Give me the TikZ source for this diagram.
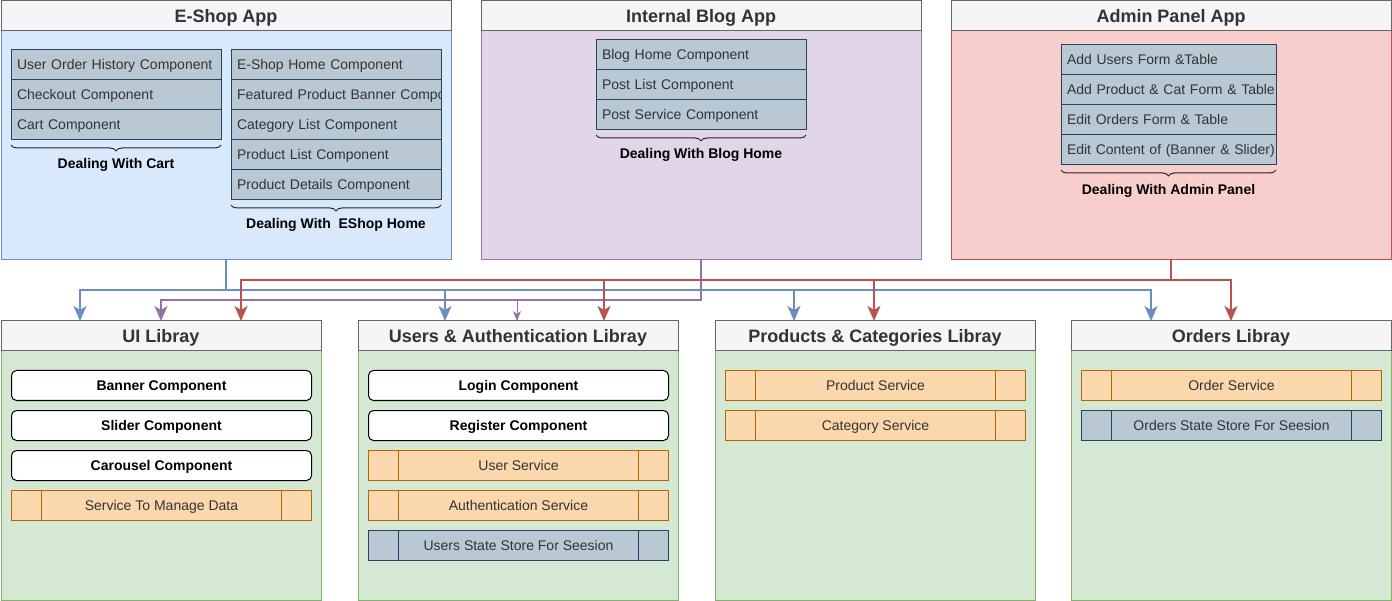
\documentclass[tikz,border=0pt]{standalone}
\usepackage{fontspec}
\setmainfont{Liberation Sans}
\usetikzlibrary{positioning,arrows.meta,decorations.pathreplacing}

\definecolor{hdrfill}{HTML}{F5F5F5}
\definecolor{hdrline}{HTML}{666666}
\definecolor{hdrtext}{HTML}{333333}
\definecolor{eshopfill}{HTML}{DAE8FC}
\definecolor{eshopline}{HTML}{6C8EBF}
\definecolor{blogfill}{HTML}{E1D5E7}
\definecolor{blogline}{HTML}{9673A6}
\definecolor{adminfill}{HTML}{F8CECC}
\definecolor{adminline}{HTML}{B85450}
\definecolor{libfill}{HTML}{D5E8D4}
\definecolor{libline}{HTML}{82B366}
\definecolor{rowfill}{HTML}{BAC8D3}
\definecolor{rowline}{HTML}{23445D}
\definecolor{svcfill}{HTML}{FAD7AC}
\definecolor{svcline}{HTML}{B46504}

\tikzset{
  header/.style={draw=hdrline, fill=hdrfill, text=hdrtext, anchor=south, minimum height=30pt,
    inner sep=0pt, outer sep=0pt, text height=13pt, text depth=0pt, font=\fontsize{18}{21}\selectfont\bfseries},
  body/.style={draw=#1line, fill=#1fill, anchor=north west, inner sep=0pt, outer sep=0pt},
  row/.style={draw=rowline, fill=rowfill, text=hdrtext, text width=#1, align=left, inner xsep=6pt,
    inner ysep=0pt, minimum height=30pt, outer sep=0pt, text height=10pt, text depth=0pt,
    font=\fontsize{14}{16}\selectfont},
  row/.default=198pt,
  part/.style={draw=black, fill=white, rounded corners=5pt, minimum width=300pt, minimum height=30pt,
    anchor=north west, inner sep=0pt, text height=10pt, text depth=0pt, font=\fontsize{14}{16}\selectfont\bfseries},
  sides/.style={path picture={
    \draw[#1, line width=1pt] ([xshift=30pt]path picture bounding box.north west) -- ([xshift=30pt]path picture bounding box.south west);
    \draw[#1, line width=1pt] ([xshift=-30pt]path picture bounding box.north east) -- ([xshift=-30pt]path picture bounding box.south east);}},
  service/.style={draw=svcline, fill=svcfill, text=hdrtext, sides=svcline, minimum width=300pt,
    minimum height=30pt, anchor=north west, inner sep=0pt, text height=10pt, text depth=0pt,
    font=\fontsize{14}{16}\selectfont},
  store/.style={service, draw=rowline, fill=rowfill, sides=rowline},
  brace/.style={decorate, decoration={brace, mirror, amplitude=6pt}, draw=black!85, line width=1pt},
  note/.style={font=\fontsize{14}{16}\selectfont\bfseries},
  link/.style={draw=#1, line width=2pt, -{Stealth[length=15pt,width=13pt,inset=4pt]}},
  thinlink/.style={draw=#1, line width=1pt, -{Stealth[length=10pt,width=8pt,inset=3pt]}}
}

\begin{document}
\begin{tikzpicture}[x=1pt,y=-1pt,line width=1pt]
\useasboundingbox (0,0) rectangle (1392,601);

% applications
\node[body=eshop, minimum width=450pt, minimum height=229pt] (eshop) at (1,31) {};
\node[header, minimum width=450pt] (eshop title) at (eshop.north) {E-Shop App};
\node[body=blog, minimum width=440pt, minimum height=229pt] (blog) at (481,31) {};
\node[header, minimum width=440pt] (blog title) at (blog.north) {Internal Blog App};
\node[body=admin, minimum width=440pt, minimum height=229pt] (admin) at (951,31) {};
\node[header, minimum width=440pt] (admin title) at (admin.north) {Admin Panel App};

% e-shop: cart
\node[row, anchor=north west] (cart1) at (11,50) {\mbox{User Order History Component}};
\node[row, anchor=north] (cart2) at (cart1.south) {Checkout Component};
\node[row, anchor=north] (cart3) at (cart2.south) {Cart Component};
\draw[brace] ([yshift=-5pt]cart3.south west) -- ([yshift=-5pt]cart3.south east);
\node[note] (cart note) at ([yshift=-25pt]cart3.south) {Dealing With Cart};

% e-shop: home
\begin{scope}
  \clip (231,50) rectangle (441,200);
  \node[row, anchor=north west] (home1) at (231,50) {E-Shop Home Component};
  \node[row, anchor=north] (home2) at (home1.south) {\mbox{Featured Product Banner Component}};
  \node[row, anchor=north] (home3) at (home2.south) {Category List Component};
  \node[row, anchor=north] (home4) at (home3.south) {Product List Component};
  \node[row, anchor=north] (home5) at (home4.south) {\mbox{Product Details Component}};
\end{scope}
\draw[rowline] (home1.north west) rectangle (home5.south east);
\draw[brace] ([yshift=-5pt]home5.south west) -- ([yshift=-5pt]home5.south east);
\node[note] (home note) at ([yshift=-25pt]home5.south) {Dealing With~ EShop Home};

% blog
\node[row, anchor=north west] (post1) at (596,40) {Blog Home Component};
\node[row, anchor=north] (post2) at (post1.south) {Post List Component};
\node[row, anchor=north] (post3) at (post2.south) {Post Service Component};
\draw[brace] ([yshift=-5pt]post3.south west) -- ([yshift=-5pt]post3.south east);
\node[note] (post note) at ([yshift=-25pt]post3.south) {Dealing With Blog Home};

% admin
\node[row=203pt, anchor=north west] (form1) at (1061,45) {Add Users Form \&Table};
\node[row=203pt, anchor=north] (form2) at (form1.south) {\mbox{Add Product \& Cat Form \& Table}};
\node[row=203pt, anchor=north] (form3) at (form2.south) {Edit Orders Form \& Table};
\node[row=203pt, anchor=north] (form4) at (form3.south) {\mbox{Edit Content of (Banner \& Slider)}};
\draw[brace] ([yshift=-5pt]form4.south west) -- ([yshift=-5pt]form4.south east);
\node[note] (form note) at ([yshift=-26pt]form4.south) {Dealing With Admin Panel};

% libraries
\node[body=lib, minimum width=320pt, minimum height=249pt] (ui) at (1,351) {};
\node[header, minimum width=320pt] (ui title) at (ui.north) {UI Libray};
\node[body=lib, minimum width=320pt, minimum height=249pt] (users) at (358,351) {};
\node[header, minimum width=320pt] (users title) at (users.north) {Users \& Authentication Libray};
\node[body=lib, minimum width=320pt, minimum height=249pt] (products) at (715,351) {};
\node[header, minimum width=320pt] (products title) at (products.north) {Products \& Categories Libray};
\node[body=lib, minimum width=320pt, minimum height=249pt] (orders) at (1071,351) {};
\node[header, minimum width=320pt] (orders title) at (orders.north) {Orders Libray};

\node[part] (banner) at (11,370) {Banner Component};
\node[part] (slider) at (11,410) {Slider Component};
\node[part] (carousel) at (11,450) {Carousel Component};
\node[service] (data svc) at (11,490) {Service To Manage Data};

\node[part] (login) at (368,370) {Login Component};
\node[part] (register) at (368,410) {Register Component};
\node[service] (user svc) at (368,450) {User Service};
\node[service] (auth svc) at (368,490) {Authentication Service};
\node[store] (user store) at (368,530) {Users State Store For Seesion};

\node[service] (product svc) at (725,370) {Product Service};
\node[service] (category svc) at (725,410) {Category Service};

\node[service] (order svc) at (1081,370) {Order Service};
\node[store] (order store) at (1081,410) {Orders State Store For Seesion};

% connectors
\draw[link=blogline] (blog.south) -- ++(0,40) -| (ui title.north);
\draw[thinlink=blogline] (blog.south) -- ++(0,40) -| ([xshift=-1pt]users title.north);
\draw[link=eshopline] (eshop.south) -- ++(0,30) -| ([xshift=-81pt]ui title.north);
\draw[link=eshopline] (eshop.south) -- ++(0,30) -| ([xshift=-73pt]users title.north);
\draw[link=eshopline] (eshop.south) -- ++(0,30) -| ([xshift=-81pt]products title.north);
\draw[link=eshopline] (eshop.south) -- ++(0,30) -| ([xshift=-80pt]orders title.north);
\draw[link=adminline] (admin.south) -- ++(0,20) -| ([xshift=80pt]ui title.north);
\draw[link=adminline] (admin.south) -- ++(0,20) -| ([xshift=86pt]users title.north);
\draw[link=adminline] (admin.south) -- ++(0,20) -| ([xshift=-1pt]products title.north);
\draw[link=adminline] (admin.south) -- ++(0,20) -| (orders title.north);
\end{tikzpicture}
\end{document}
